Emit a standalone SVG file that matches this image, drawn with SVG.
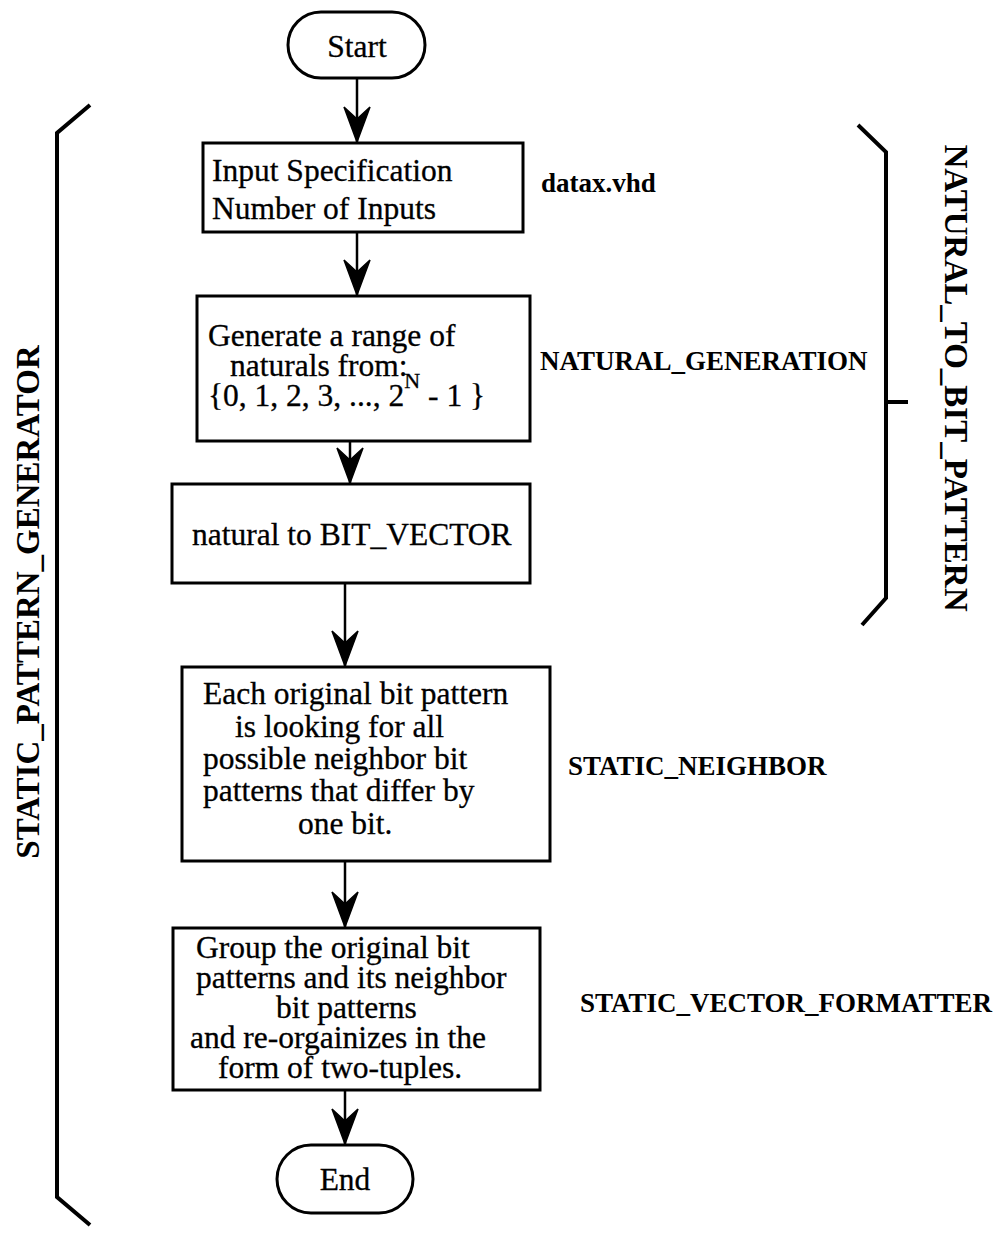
<svg xmlns="http://www.w3.org/2000/svg" width="1004" height="1255" viewBox="0 0 1004 1255">
  <style>
    .box { fill: #fff; stroke: #000; stroke-width: 3; }
    .txt { font-family: "Liberation Serif", "Times New Roman", serif; font-size: 31.5px; fill: #000; stroke: #000; stroke-width: 0.3; }
    .lbl { font-family: "Liberation Serif", "Times New Roman", serif; font-size: 27px; font-weight: bold; fill: #000; }
    .vlbl { font-family: "Liberation Serif", "Times New Roman", serif; font-size: 33px; font-weight: bold; fill: #000; text-anchor: middle; }
    .flow { fill: none; stroke: #000; stroke-width: 2.5; marker-end: url(#barb); }
    .brace { fill: none; stroke: #000; stroke-width: 4; stroke-linejoin: miter; }
  </style>
  <defs>
    <!-- barbed arrowhead, drawn pointing along +x so orient="auto" turns it with the line -->
    <marker id="barb" markerUnits="userSpaceOnUse" markerWidth="40" markerHeight="30" viewBox="-38 -15 40 30" refX="0" refY="0" orient="auto" overflow="visible">
      <path d="M-1,0 L-36,-13 L-24,0 L-36,13 Z" fill="#000" stroke="#000" stroke-width="1.5" stroke-linejoin="miter"/>
    </marker>
  </defs>

  <!-- connectors -->
  <g id="connectors">
    <line class="flow" x1="357" y1="78" x2="357" y2="143"/>
    <line class="flow" x1="357" y1="232" x2="357" y2="296"/>
    <line class="flow" x1="350" y1="441" x2="350" y2="484"/>
    <line class="flow" x1="345" y1="583" x2="345" y2="667"/>
    <line class="flow" x1="345" y1="861" x2="345" y2="928"/>
    <line class="flow" x1="345" y1="1090" x2="345" y2="1145"/>
  </g>

  <!-- start / end terminals -->
  <g id="start">
    <rect class="box" x="288" y="12" width="137" height="66" rx="33"/>
    <text class="txt" x="357" y="57" text-anchor="middle">Start</text>
  </g>

  <g id="end">
    <rect class="box" x="277" y="1145" width="136" height="68" rx="34"/>
    <text class="txt" x="345" y="1190" text-anchor="middle">End</text>
  </g>

  <!-- process steps -->
  <g id="input-spec">
    <rect class="box" x="203" y="143" width="320" height="89"/>
    <text class="txt" x="212" y="181">Input Specification</text>
    <text class="txt" x="212" y="219">Number of Inputs</text>
  </g>

  <g id="natural-generation">
    <rect class="box" x="197" y="296" width="333" height="145"/>
    <text class="txt" x="208" y="346">Generate a range of</text>
    <text class="txt" x="230" y="376">naturals from:</text>
    <text class="txt" x="208" y="406">{0, 1, 2, 3, ..., 2<tspan font-size="22" dy="-18">N</tspan><tspan dy="18"> - 1 }</tspan></text>
  </g>

  <g id="to-bit-vector">
    <rect class="box" x="172" y="484" width="358" height="99"/>
    <text class="txt" x="192" y="545">natural to BIT_VECTOR</text>
  </g>

  <g id="static-neighbor">
    <rect class="box" x="182" y="667" width="368" height="194"/>
    <text class="txt" x="203" y="704">Each original bit pattern</text>
    <text class="txt" x="235" y="737">is looking for all</text>
    <text class="txt" x="203" y="769">possible neighbor bit</text>
    <text class="txt" x="203" y="801">patterns that differ by</text>
    <text class="txt" x="298" y="834">one bit.</text>
  </g>

  <g id="vector-formatter">
    <rect class="box" x="173" y="928" width="367" height="162"/>
    <text class="txt" x="196" y="958">Group the original bit</text>
    <text class="txt" x="196" y="988">patterns and its neighbor</text>
    <text class="txt" x="276" y="1018">bit patterns</text>
    <text class="txt" x="190" y="1048">and re-orgainizes in the</text>
    <text class="txt" x="218" y="1078">form of two-tuples.</text>
  </g>

  <!-- module names -->
  <g id="module-labels">
    <text class="lbl" x="541" y="192">datax.vhd</text>
    <text class="lbl" x="540" y="370">NATURAL_GENERATION</text>
    <text class="lbl" x="568" y="775">STATIC_NEIGHBOR</text>
    <text class="lbl" x="580" y="1012">STATIC_VECTOR_FORMATTER</text>
  </g>

  <!-- grouping brackets -->
  <g id="pattern-generator-bracket">
    <path class="brace" d="M90,105 L57,133 L57,1197 L90,1225"/>
    <text class="vlbl" transform="translate(39,602) rotate(-90)">STATIC_PATTERN_GENERATOR</text>
  </g>

  <g id="natural-to-bit-bracket">
    <path class="brace" d="M858,125 L886,152 L886,598 L862,625 M886,402 L908,402"/>
    <text class="vlbl" transform="translate(945,378) rotate(90)">NATURAL_TO_BIT_PATTERN</text>
  </g>
</svg>
